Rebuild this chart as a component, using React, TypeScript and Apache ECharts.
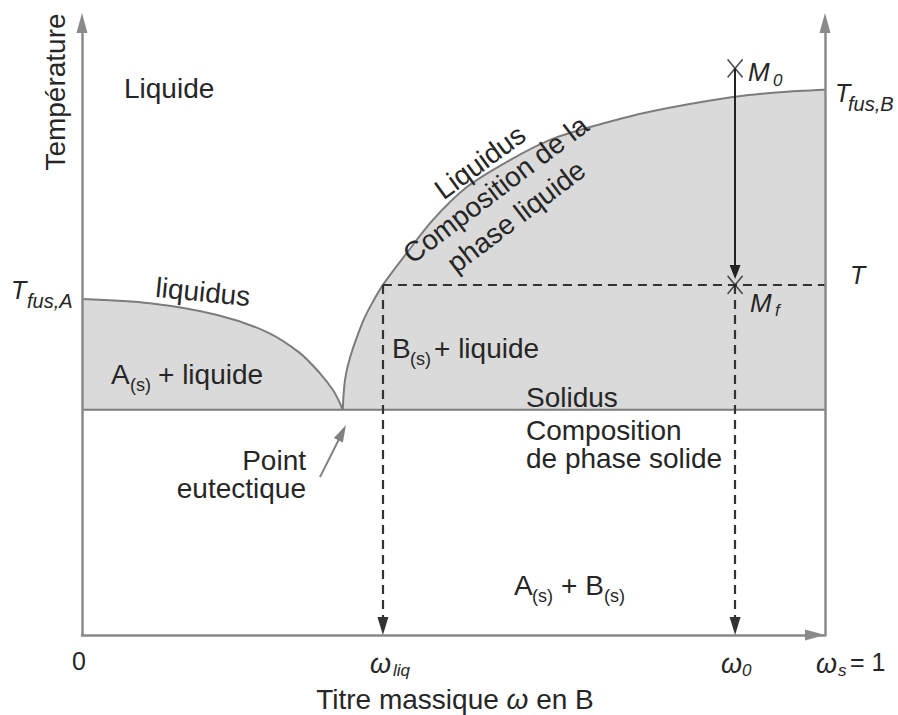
import React, { useEffect, useRef } from "react";
import * as echarts from "echarts";

// ---- Data (ω = titre massique en B, T = température, unités arbitraires 0–100) ----
const W_LIQ = 0.405;
const W_0 = 0.879;
const W_S = 1.004;
const T_SOLIDUS = 36.8;
const T_LEVEL = 57.2;
const T_M0 = 92.6;

const liquidusA_w = [0, 0.0915, 0.182, 0.249, 0.293, 0.32, 0.338, 0.3455, 0.351];
const liquidusA_T = [54.9, 54.2, 52.3, 49.5, 46.1, 42.8, 40.0, 38.3, 36.8];

const liquidusB_w = [0.351, 0.352, 0.354, 0.358, 0.364, 0.371, 0.379, 0.389, 0.405, 0.437, 0.472, 0.518, 0.576, 0.63, 0.684, 0.764, 0.876, 0.939, 1.0];
const liquidusB_T = [36.8, 39.2, 41.7, 44.1, 46.6, 49.0, 51.5, 53.9, 57.2, 62.4, 67.8, 73.2, 77.6, 80.9, 83.0, 85.5, 87.9, 88.7, 89.1];

const solidus_w = [0, 1];

const eutecticPointerTail: [number, number] = [0.3203, 25.8];
const eutecticPointerTip: [number, number] = [0.3553, 34.3];

// ---- Layout ----
const WIDTH = 898;
const HEIGHT = 715;
const GRID = { left: 82, right: 73, top: 23, bottom: 80 };
const PX_X = (WIDTH - GRID.left - GRID.right) / 1;
const PX_Y = (HEIGHT - GRID.top - GRID.bottom) / 100;

const FAMILY = '"Liberation Sans", Arial, Helvetica, sans-serif';
const TXT = "#262626";
const MAIN = 28;
const font = (size: number, italic = false) => `${italic ? "italic " : ""}${size}px ${FAMILY}`;

function backOff(tip: [number, number], from: [number, number], px: number): [number, number] {
  const dx = (from[0] - tip[0]) * PX_X;
  const dy = (from[1] - tip[1]) * PX_Y;
  const L = Math.hypot(dx, dy) || 1;
  return [tip[0] + ((dx / L) * px) / PX_X, tip[1] + ((dy / L) * px) / PX_Y];
}

const zip = (a: number[], b: number[]) => a.map((v, i) => [v, b[i]]);

type T = {
  t: string;
  x: number;
  y: number;
  size?: number;
  italic?: boolean;
  align?: string;
  rot?: number;
  lh?: number;
};

const texts: T[] = [
  { t: "Température", x: 55, y: 92, align: "center", rot: Math.PI / 2 },
  { t: "Liquide", x: 124, y: 88 },
  { t: "T", x: 11, y: 290, size: 25, italic: true },
  { t: "fus,A", x: 27, y: 301, size: 20, italic: true },
  { t: "liquidus", x: 203, y: 292, align: "center", rot: -0.1 },
  { t: "A", x: 111, y: 374 },
  { t: "(s)", x: 130, y: 385, size: 18 },
  { t: "+ liquide", x: 158, y: 374 },
  { t: "B", x: 392, y: 348 },
  { t: "(s)", x: 410, y: 359, size: 18 },
  { t: "+ liquide", x: 434, y: 348 },
  { t: "Liquidus", x: 480, y: 162, align: "center", rot: 0.63 },
  { t: "Composition de la\nphase liquide", x: 506, y: 203, align: "center", rot: 0.65, lh: 34 },
  { t: "M", x: 748, y: 72, size: 26, italic: true },
  { t: "0", x: 773, y: 80, size: 17, italic: true },
  { t: "T", x: 835, y: 93, size: 25, italic: true },
  { t: "fus,B", x: 848, y: 104, size: 20, italic: true },
  { t: "T", x: 850, y: 275, size: 25, italic: true },
  { t: "M", x: 750, y: 303, size: 26, italic: true },
  { t: "f", x: 775, y: 310, size: 17, italic: true },
  { t: "Solidus", x: 526, y: 397 },
  { t: "Composition", x: 526, y: 430 },
  { t: "de phase solide", x: 526, y: 458 },
  { t: "Point", x: 306, y: 460, align: "right" },
  { t: "eutectique", x: 306, y: 488, align: "right" },
  { t: "A", x: 514, y: 585 },
  { t: "(s)", x: 532, y: 596, size: 18 },
  { t: "+ B", x: 561, y: 585 },
  { t: "(s)", x: 604, y: 596, size: 18 },
  { t: "0", x: 79, y: 661, size: 25, align: "center" },
  { t: "ω", x: 370, y: 664, size: 27, italic: true },
  { t: "liq", x: 393, y: 670, size: 17, italic: true },
  { t: "ω", x: 721, y: 664, size: 27, italic: true },
  { t: "0", x: 742, y: 670, size: 17, italic: true },
  { t: "ω", x: 816, y: 664, size: 27, italic: true },
  { t: "s", x: 838, y: 670, size: 17, italic: true },
  { t: "= 1", x: 850, y: 662, size: 25 },
];

function buildGraphic() {
  const els: any[] = texts.map((d) => ({
    type: "text",
    x: d.x,
    y: d.y,
    rotation: d.rot || 0,
    silent: true,
    z: 100,
    style: {
      text: d.t,
      font: font(d.size || MAIN, !!d.italic),
      fill: TXT,
      align: d.align || "left",
      textAlign: d.align || "left",
      verticalAlign: "middle",
      textVerticalAlign: "middle",
      lineHeight: d.lh,
    },
  }));
  els.push({
    type: "text",
    x: 455,
    y: 699,
    silent: true,
    z: 100,
    style: {
      text: "{n|Titre massique }{i|ω}{n| en B}",
      font: font(MAIN),
      fill: TXT,
      align: "center",
      textAlign: "center",
      verticalAlign: "middle",
      textVerticalAlign: "middle",
      rich: {
        n: { font: font(MAIN), fill: TXT },
        i: { font: font(MAIN, true), fill: TXT },
      },
    },
  });
  return els;
}

export default function App() {
  const ref = useRef<HTMLDivElement>(null);

  useEffect(() => {
    if (!ref.current) return;
    const chart = echarts.init(ref.current, null, { renderer: "svg", width: WIDTH, height: HEIGHT });

    const axisGrey = "#8a8a8a";
    const curveGrey = "#7c7c7c";
    const fill = "#dadada";
    const dash = { color: "#333", width: 2.2, type: [9, 6] as any };
    const solid = { color: "#222", width: 2, type: "solid" as any };

    const arrowDown = (w: number) => {
      const tip: [number, number] = [w, 0];
      const from: [number, number] = [w, T_LEVEL];
      return [
        { coord: from, symbol: "none", lineStyle: dash },
        { coord: backOff(tip, from, 9), symbol: "triangle", symbolSize: [11, 18], lineStyle: dash, itemStyle: { color: "#222" } },
      ];
    };

    const m0Tip: [number, number] = [W_0, T_LEVEL + 6 / PX_Y];
    const m0From: [number, number] = [W_0, T_M0];

    const axisCommon = {
      axisTick: { show: false },
      axisLabel: { show: false },
      splitLine: { show: false },
    };

    const option: any = {
      animation: false,
      backgroundColor: "#fff",
      grid: { ...GRID, containLabel: false },
      xAxis: {
        type: "value",
        min: 0,
        max: 1,
        axisLine: {
          show: true,
          onZero: false,
          symbol: ["none", "triangle"],
          symbolSize: [11, 20],
          symbolOffset: [0, -10],
          lineStyle: { color: axisGrey, width: 2.5 },
        },
        ...axisCommon,
      },
      yAxis: [
        {
          type: "value",
          min: 0,
          max: 100,
          position: "left",
          z: 5,
          axisLine: {
            show: true,
            onZero: false,
            symbol: ["none", "triangle"],
            symbolSize: [11, 20],
            lineStyle: { color: axisGrey, width: 2.5 },
          },
          ...axisCommon,
        },
        {
          type: "value",
          min: 0,
          max: 100,
          position: "right",
          z: 5,
          axisLine: {
            show: true,
            onZero: false,
            symbol: ["none", "triangle"],
            symbolSize: [11, 20],
            lineStyle: { color: axisGrey, width: 2.5 },
          },
          ...axisCommon,
        },
      ],
      series: [
        {
          type: "line",
          data: zip(liquidusA_w, liquidusA_T),
          smooth: 0.3,
          symbol: "none",
          silent: true,
          lineStyle: { color: curveGrey, width: 2 },
          areaStyle: { color: fill, opacity: 1, origin: T_SOLIDUS },
          z: 2,
        },
        {
          type: "line",
          data: zip(liquidusB_w, liquidusB_T),
          smooth: 0.3,
          symbol: "none",
          silent: true,
          lineStyle: { color: curveGrey, width: 2 },
          areaStyle: { color: fill, opacity: 1, origin: T_SOLIDUS },
          z: 2,
        },
        {
          type: "line",
          data: solidus_w.map((w) => [w, T_SOLIDUS]),
          symbol: "none",
          silent: true,
          lineStyle: { color: curveGrey, width: 2 },
          z: 3,
        },
        {
          type: "line",
          data: [],
          silent: true,
          z: 4,
          markLine: {
            silent: true,
            animation: false,
            label: { show: false },
            symbol: ["none", "none"],
            data: [
              [
                { coord: [W_LIQ, T_LEVEL], symbol: "none", lineStyle: dash },
                { coord: [1, T_LEVEL], symbol: "none", lineStyle: dash },
              ],
              arrowDown(W_LIQ),
              arrowDown(W_0),
              arrowDown(W_S),
              [
                { coord: m0From, symbol: "none", lineStyle: solid },
                { coord: backOff(m0Tip, m0From, 7), symbol: "triangle", symbolSize: [11, 14], lineStyle: solid, itemStyle: { color: "#222" } },
              ],
              [
                { coord: eutecticPointerTail, symbol: "none", lineStyle: { color: "#808080", width: 2, type: "solid" } },
                {
                  coord: backOff(eutecticPointerTip, eutecticPointerTail, 8.5),
                  symbol: "triangle",
                  symbolSize: [10, 17],
                  lineStyle: { color: "#808080", width: 2, type: "solid" },
                  itemStyle: { color: "#808080" },
                },
              ],
            ],
          },
        },
        {
          type: "scatter",
          data: [
            [W_0, T_M0],
            [W_0, T_LEVEL],
          ],
          symbol: "path://M0,0L15,18M15,0L0,18",
          symbolSize: [15, 18],
          silent: true,
          itemStyle: { color: "none", borderColor: "#222", borderWidth: 1.6 },
          z: 6,
        },
      ],
      graphic: buildGraphic(),
    };

    chart.setOption(option);
    return () => chart.dispose();
  }, []);

  return (
    <div
      ref={ref}
      style={{ position: "fixed", left: 0, top: 0, width: WIDTH, height: HEIGHT, background: "#fff" }}
    />
  );
}
